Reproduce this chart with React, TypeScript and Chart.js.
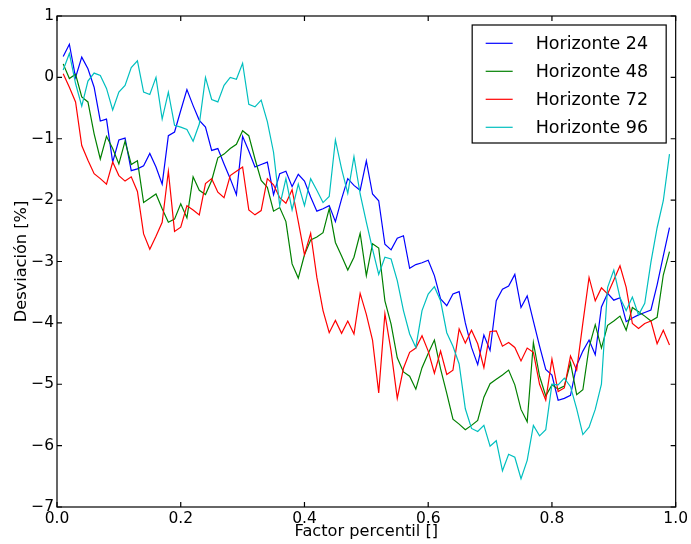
import React, { useEffect, useRef } from 'react';
import { Chart, registerables } from 'chart.js';

Chart.register(...registerables);

const percentiles = [
  0.01, 0.02, 0.03, 0.04, 0.05, 0.06, 0.07, 0.08, 0.09, 0.1,
  0.11, 0.12, 0.13, 0.14, 0.15, 0.16, 0.17, 0.18, 0.19, 0.2,
  0.21, 0.22, 0.23, 0.24, 0.25, 0.26, 0.27, 0.28, 0.29, 0.3,
  0.31, 0.32, 0.33, 0.34, 0.35, 0.36, 0.37, 0.38, 0.39, 0.4,
  0.41, 0.42, 0.43, 0.44, 0.45, 0.46, 0.47, 0.48, 0.49, 0.5,
  0.51, 0.52, 0.53, 0.54, 0.55, 0.56, 0.57, 0.58, 0.59, 0.6,
  0.61, 0.62, 0.63, 0.64, 0.65, 0.66, 0.67, 0.68, 0.69, 0.7,
  0.71, 0.72, 0.73, 0.74, 0.75, 0.76, 0.77, 0.78, 0.79, 0.8,
  0.81, 0.82, 0.83, 0.84, 0.85, 0.86, 0.87, 0.88, 0.89, 0.9,
  0.91, 0.92, 0.93, 0.94, 0.95, 0.96, 0.97, 0.98, 0.99,
];

const horizonte24 = [
  0.34, 0.54, 0.0, 0.33, 0.14, -0.16, -0.71, -0.68, -1.38, -1.02,
  -0.99, -1.52, -1.49, -1.44, -1.24, -1.46, -1.74, -0.95, -0.89, -0.54,
  -0.2, -0.46, -0.7, -0.81, -1.19, -1.16, -1.41, -1.65, -1.91, -0.96,
  -1.2, -1.46, -1.42, -1.38, -1.91, -1.57, -1.53, -1.78, -1.58, -1.69,
  -1.95, -2.18, -2.14, -2.09, -2.35, -1.98, -1.65, -1.76, -1.84, -1.36,
  -1.9, -2.01, -2.72, -2.81, -2.62, -2.58, -3.11, -3.05, -3.02, -2.98,
  -3.23, -3.61, -3.72, -3.53, -3.49, -4.0, -4.4, -4.68, -4.2, -4.45,
  -3.64, -3.45, -3.4, -3.21, -3.75, -3.56, -3.97, -4.38, -4.76, -4.85,
  -5.26, -5.23, -5.18, -4.69, -4.46, -4.28, -4.52, -3.74, -3.52, -3.63,
  -3.59, -3.98, -3.92, -3.87, -3.83, -3.79, -3.38, -2.91, -2.45,
];

const horizonte48 = [
  0.22, -0.02, 0.05, -0.32, -0.4, -0.92, -1.33, -0.96, -1.16, -1.41,
  -1.04, -1.42, -1.36, -2.04, -1.97, -1.9, -2.14, -2.36, -2.31, -2.06,
  -2.29, -1.62, -1.84, -1.91, -1.68, -1.31, -1.25, -1.16, -1.09, -0.87,
  -0.95, -1.33, -1.68, -1.79, -2.18, -2.12, -2.35, -3.04, -3.27, -2.89,
  -2.65, -2.6, -2.53, -2.14, -2.69, -2.91, -3.14, -2.93, -2.54, -3.23,
  -2.71, -2.78, -3.64, -4.02, -4.57, -4.8, -4.87, -5.08, -4.73, -4.5,
  -4.28, -4.75, -5.15, -5.57, -5.65, -5.74, -5.67, -5.59, -5.21, -4.99,
  -4.92, -4.85, -4.77, -5.01, -5.41, -5.61, -4.32, -4.87, -5.19, -5.01,
  -5.08, -5.03, -4.65, -5.17, -5.09, -4.4, -4.03, -4.41, -4.04, -3.97,
  -3.89, -4.12, -3.75, -3.82, -3.89, -3.97, -3.91, -3.22, -2.84,
];

const horizonte72 = [
  0.06, -0.16, -0.4, -1.11, -1.35, -1.57, -1.65, -1.74, -1.38, -1.6,
  -1.69, -1.62, -1.86, -2.55, -2.8, -2.59, -2.36, -1.53, -2.51, -2.44,
  -2.09, -2.16, -2.24, -1.73, -1.65, -1.87, -1.96, -1.6, -1.53, -1.46,
  -2.16, -2.24, -2.17, -1.65, -1.75, -1.96, -2.05, -1.83, -2.35, -2.89,
  -2.54, -3.26, -3.8, -4.16, -3.96, -4.17, -3.97, -4.18, -3.52, -3.86,
  -4.28, -5.14, -3.85, -4.46, -5.23, -4.74, -4.48, -4.41, -4.21, -4.46,
  -4.82, -4.46, -4.84, -4.77, -4.1, -4.33, -4.12, -4.34, -4.73, -4.14,
  -4.13, -4.38, -4.32, -4.4, -4.62, -4.41, -4.48, -5.0, -5.26, -4.59,
  -5.12, -5.06, -4.54, -4.77, -4.0, -3.26, -3.64, -3.43, -3.53, -3.3,
  -3.07, -3.42, -4.01, -4.09, -4.01, -3.97, -4.34, -4.12, -4.36,
];

const horizonte96 = [
  0.12, 0.39, -0.1, -0.47, -0.06, 0.07, 0.03, -0.18, -0.53, -0.24,
  -0.13, 0.16, 0.27, -0.24, -0.28, 0.0, -0.68, -0.24, -0.78, -0.81,
  -0.85, -1.04, -0.76, 0.0, -0.36, -0.4, -0.13, 0.0, -0.03, 0.23,
  -0.44, -0.48, -0.37, -0.72, -1.22, -2.09, -1.65, -2.16, -1.74, -2.09,
  -1.65, -1.84, -2.04, -1.94, -1.02, -1.49, -1.89, -1.29, -1.9, -2.36,
  -2.8, -3.21, -2.93, -2.96, -3.31, -3.8, -4.18, -4.4, -3.8, -3.53,
  -3.41, -3.64, -4.16, -4.38, -4.67, -5.4, -5.72, -5.77, -5.67, -6.01,
  -5.92, -6.41, -6.14, -6.19, -6.54, -6.24, -5.67, -5.84, -5.74, -5.0,
  -5.01, -4.9, -5.04, -5.4, -5.82, -5.7, -5.41, -5.0, -3.42, -3.14,
  -3.59, -3.8, -3.58, -3.87, -3.68, -3.01, -2.45, -2.01, -1.25,
];

const seriesLabels = ['Horizonte 24', 'Horizonte 48', 'Horizonte 72', 'Horizonte 96'];
const seriesValues = [horizonte24, horizonte48, horizonte72, horizonte96];
const seriesColors = ['#0000ff', '#008000', '#ff0000', '#00bfbf'];

const xTicks = [0, 0.2, 0.4, 0.6, 0.8, 1.0];
const yTicks = [-7, -6, -5, -4, -3, -2, -1, 0, 1];

const xTitle = 'Factor percentil []';
const yTitle = 'Desviación [%]';

const FONT = "'DejaVu Sans', sans-serif";
const TICK_SIZE = 15.5;
const TITLE_SIZE = 16.2;
const LEGEND_SIZE = 17.5;

const mplPlugin = {
  id: 'mplFrame',
  afterDatasetsDraw(chart: any) {
    const { ctx, chartArea: a, scales } = chart;
    ctx.save();
    ctx.strokeStyle = '#000';
    ctx.lineWidth = 1.2;
    const tl = 5;
    ctx.beginPath();
    for (const v of xTicks) {
      const px = scales.x.getPixelForValue(v);
      ctx.moveTo(px, a.bottom);
      ctx.lineTo(px, a.bottom - tl);
      ctx.moveTo(px, a.top);
      ctx.lineTo(px, a.top + tl);
    }
    for (const v of yTicks) {
      const py = scales.y.getPixelForValue(v);
      ctx.moveTo(a.left, py);
      ctx.lineTo(a.left + tl, py);
      ctx.moveTo(a.right, py);
      ctx.lineTo(a.right - tl, py);
    }
    ctx.stroke();
    ctx.strokeRect(a.left, a.top, a.right - a.left, a.bottom - a.top);

    // legend (matplotlib style, upper right)
    const bw = 194;
    const bh = 118;
    const bx = a.right - 9.5 - bw;
    const by = a.top + 9;
    ctx.fillStyle = '#fff';
    ctx.fillRect(bx, by, bw, bh);
    ctx.lineWidth = 1.2;
    ctx.strokeStyle = '#000';
    ctx.strokeRect(bx, by, bw, bh);
    ctx.font = `${LEGEND_SIZE}px ${FONT}`;
    ctx.textBaseline = 'middle';
    ctx.textAlign = 'left';
    chart.data.datasets.forEach((ds: any, i: number) => {
      const ry = by + 18.3 + 28 * i;
      ctx.strokeStyle = ds.borderColor;
      ctx.lineWidth = 1.2;
      ctx.beginPath();
      ctx.moveTo(bx + 13.5, ry);
      ctx.lineTo(bx + 40.5, ry);
      ctx.stroke();
      ctx.fillStyle = '#000';
      ctx.fillText(ds.label, bx + 63.5, ry + 1);
    });
    ctx.restore();
  },
};

export default function App() {
  const ref = useRef<HTMLCanvasElement | null>(null);

  useEffect(() => {
    document.body.style.margin = '0';
    const canvas = ref.current;
    if (!canvas) return;
    const chart = new Chart(canvas, {
      type: 'line',
      data: {
        datasets: seriesValues.map((vals, i) => ({
          label: seriesLabels[i],
          data: vals.map((v, j) => ({ x: percentiles[j], y: v })),
          borderColor: seriesColors[i],
          backgroundColor: seriesColors[i],
          borderWidth: 1.2,
          pointRadius: 0,
          tension: 0,
          fill: false,
          order: 3 - i,
        })),
      },
      options: {
        responsive: false,
        animation: false,
        events: [],
        layout: { padding: { top: 16, right: 15, left: 0, bottom: 0 } },
        plugins: {
          legend: { display: false },
          tooltip: { enabled: false },
        },
        scales: {
          x: {
            type: 'linear',
            min: 0,
            max: 1,
            grid: { display: false, drawTicks: false },
            border: { display: false },
            afterBuildTicks: (s: any) => {
              s.ticks = xTicks.map((v) => ({ value: v }));
            },
            afterFit: (s: any) => {
              s.height = 37;
            },
            ticks: {
              autoSkip: false,
              maxRotation: 0,
              padding: 3,
              color: '#000',
              font: { family: FONT, size: TICK_SIZE },
              callback: (v: any) => Number(v).toFixed(1),
            },
            title: {
              display: true,
              text: xTitle,
              color: '#000',
              font: { family: FONT, size: TITLE_SIZE },
              padding: { top: 0, bottom: 2.5 },
            },
          },
          y: {
            type: 'linear',
            min: -7,
            max: 1,
            grid: { display: false, drawTicks: false },
            border: { display: false },
            afterBuildTicks: (s: any) => {
              s.ticks = yTicks.map((v) => ({ value: v }));
            },
            afterFit: (s: any) => {
              s.width = 57;
            },
            ticks: {
              autoSkip: false,
              padding: 3,
              color: '#000',
              font: { family: FONT, size: TICK_SIZE },
              callback: (v: any) => (Number(v) < 0 ? '\u2212' + Math.abs(Number(v)) : String(v)),
            },
            title: {
              display: true,
              text: yTitle,
              color: '#000',
              font: { family: FONT, size: TITLE_SIZE },
              padding: { top: 12.5, bottom: 0 },
            },
          },
        },
      },
      plugins: [mplPlugin],
    });
    return () => chart.destroy();
  }, []);

  return (
    <canvas
      ref={ref}
      width={691}
      height={544}
      style={{ display: 'block', width: '691px', height: '544px' }}
    />
  );
}
